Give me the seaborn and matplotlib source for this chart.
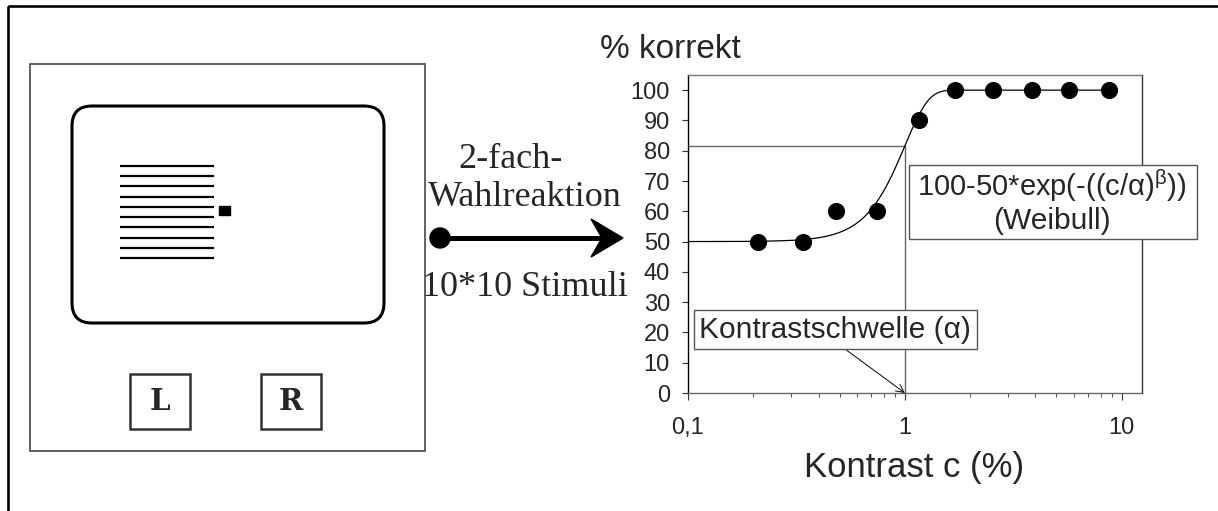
import matplotlib
matplotlib.use('Agg')
import matplotlib.pyplot as plt
import seaborn as sns
import numpy as np
import pandas as pd
from matplotlib.patches import Rectangle, FancyBboxPatch, Circle, Polygon

# Messdaten: Kontrast (%) und Anteil korrekter Antworten (%)
contrast = [0.21, 0.34, 0.48, 0.74, 1.16, 1.7, 2.56, 3.87, 5.7, 8.7]
correct = [50, 50, 60, 60, 90, 100, 100, 100, 100, 100]

# Weibull-Fit 100-50*exp(-((c/alpha)^beta))
alpha = 1.0
beta = 4.0

x_ticks = [0.1, 1, 10]
x_ticklabels = ['0,1', '1', '10']
y_ticks = list(range(0, 101, 10))

W, H = 1218, 511

sns.set_style('ticks')
plt.rcParams['font.family'] = ['Liberation Sans', 'DejaVu Sans']
plt.rcParams['mathtext.fontset'] = 'custom'
plt.rcParams['mathtext.rm'] = 'Liberation Sans'
plt.rcParams['mathtext.it'] = 'Liberation Sans'

fig = plt.figure(figsize=(W / 100, H / 100), dpi=100)

# Diagramm
ax = fig.add_axes([688 / W, 1 - 393 / H, (1142 - 688) / W, (393 - 75) / H])
df = pd.DataFrame({'c': contrast, 'p': correct})
c_fit = np.geomspace(0.1, max(contrast), 300)
fit = pd.DataFrame({'c': c_fit, 'p': 100 - 50 * np.exp(-(c_fit / alpha) ** beta)})
sns.lineplot(data=fit, x='c', y='p', ax=ax, color='black', lw=0.9, zorder=3)
sns.scatterplot(data=df, x='c', y='p', ax=ax, color='black', s=130,
                edgecolor='black', zorder=4)

thr = 100 - 50 * np.exp(-1)
ax.plot([0.1, alpha], [thr, thr], color='#666666', lw=1, zorder=2)
ax.plot([alpha, alpha], [0, thr], color='#666666', lw=1, zorder=2)
ax.annotate('', xy=(alpha, 0), xytext=(0.537, 14.2),
            arrowprops=dict(arrowstyle='->', lw=0.7, color='black',
                            shrinkA=0, shrinkB=0, mutation_scale=14))

ax.set_xscale('log')
ax.set_xlim(0.1, 12.4)
ax.set_ylim(0, 105)
ax.set_xticks(x_ticks)
ax.set_xticklabels(x_ticklabels)
ax.set_yticks(y_ticks)
ax.set_xlabel('')
ax.set_ylabel('')
ax.tick_params(axis='both', labelsize=17, direction='out', color='#333333')
ax.tick_params(axis='x', which='major', length=5, pad=12)
ax.tick_params(axis='x', which='minor', length=3, color='#333333')
ax.tick_params(axis='y', length=4, pad=9)
ax.spines['left'].set_color('black')
ax.spines['bottom'].set_color('#666666')
ax.spines['top'].set_color('#777777')
ax.spines['right'].set_color('#333333')
for s in ax.spines.values():
    s.set_linewidth(1)
    s.set_visible(True)

# Overlay in Pixelkoordinaten fuer Schema, Pfeil und Beschriftungen
ov = fig.add_axes([0, 0, 1, 1], zorder=5)
ov.set_xlim(0, W)
ov.set_ylim(H, 0)
ov.axis('off')
ov.patch.set_alpha(0)

ov.add_patch(Rectangle((8, 6), 1400, 700, fill=False, ec='black', lw=1.9))

# Schema links
ov.add_patch(Rectangle((29.5, 64), 395.5, 387, fill=False, ec='#555555', lw=1.3))
ov.add_patch(FancyBboxPatch((72, 106), 312, 217, boxstyle='round,pad=0,rounding_size=20',
                            fill=False, ec='black', lw=2.2))
for yy in np.linspace(166, 258, 10):
    ov.plot([120, 213.5], [yy, yy], color='black', lw=1.6, solid_capstyle='butt')
ov.add_patch(Rectangle((219, 206), 11, 9, color='black'))
for x0, key in [(130, 'L'), (260.6, 'R')]:
    ov.add_patch(Rectangle((x0, 374), 60, 55, fill=False, ec='#333333', lw=1.8))
    ov.text(x0 + 30, 402, key, ha='center', va='center', fontsize=21,
            fontweight='bold', family='DejaVu Serif')

# Pfeil
ov.add_patch(Circle((440, 238), 10, color='black'))
ov.plot([440, 602], [238, 238], color='black', lw=3.6, solid_capstyle='butt')
ov.add_patch(Polygon([(623, 238), (591, 219), (602, 238), (591, 257)], closed=True,
                     color='black'))
serif = dict(family='Liberation Serif', fontsize=26, ha='center', va='center')
ov.text(510, 160, '2-fach-', **serif)
ov.text(525, 198, 'Wahlreaktion', **serif)
ov.text(525, 287, '10*10 Stimuli', **serif)

# Achsenbeschriftungen
ov.text(670, 50, '% korrekt', fontsize=24, ha='center', va='center')
ov.text(914, 468, 'Kontrast c (%)', fontsize=25, ha='center', va='center')

# Textkaesten
ov.add_patch(Rectangle((694, 310), 283, 39, fc='white', ec='#555555', lw=1))
ov.text(835, 330, 'Kontrastschwelle (α)', fontsize=21.5, ha='center', va='center')
ov.add_patch(Rectangle((909, 165), 288, 74, fc='white', ec='#555555', lw=1))
ov.text(1052, 186, '100-50*exp(-((c/α)$^{\\beta}$))', fontsize=21, ha='center', va='center')
ov.text(1052, 221, '(Weibull)', fontsize=21.5, ha='center', va='center')

fig.savefig('out.png', dpi=100)
